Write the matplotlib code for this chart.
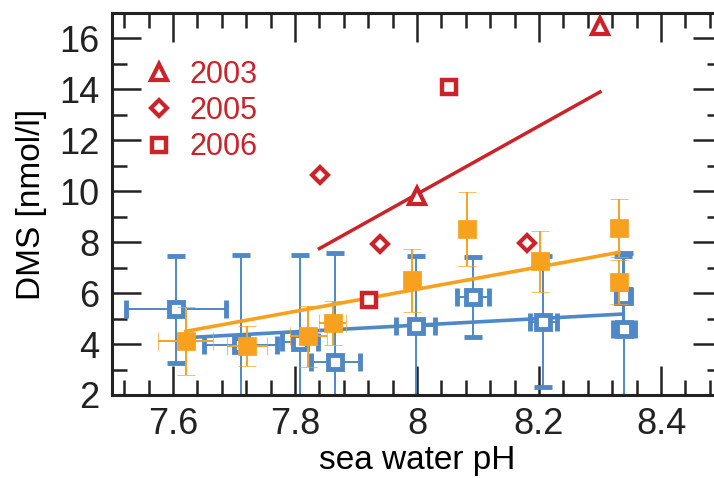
import numpy as np
import matplotlib
matplotlib.use('Agg')
import matplotlib.pyplot as plt
from matplotlib.ticker import MultipleLocator, FormatStrFormatter

plt.rcParams['font.family'] = ['Liberation Sans', 'DejaVu Sans']

RED = '#cc2229'
BLUE = '#4f88c6'
ORANGE = '#f7a11f'

# red campaigns (single values)
ph_2003 = [8.00, 8.30]
dms_2003 = [9.8, 16.5]
ph_2005 = [7.841, 7.94, 8.18]
dms_2005 = [10.63, 7.92, 7.95]
ph_2006 = [7.921, 8.052]
dms_2006 = [5.73, 14.1]
red_fit_ph = [7.84, 8.30]
red_fit_dms = [7.75, 13.9]

# blue open squares with error bars
blue_ph = [7.605, 7.711, 7.808, 7.866, 7.998, 8.092, 8.207, 8.338, 8.339]
blue_dms = [5.37, 3.95, 4.08, 3.29, 4.72, 5.84, 4.87, 5.9, 4.59]
blue_ph_err = [0.082, 0.06, 0.03, 0.04, 0.032, 0.026, 0.022, 0.012, 0.018]
blue_dms_err = [2.1, 3.55, 3.42, 4.28, 2.75, 1.56, 2.57, 1.55, 3.0]
blue_fit_ph = [7.62, 8.338]
blue_fit_dms = [4.25, 5.18]

# orange filled squares with error bars
orange_ph = [7.621, 7.721, 7.822, 7.862, 7.992, 8.082, 8.202, 8.331, 8.331]
orange_dms = [4.12, 3.92, 4.31, 4.82, 6.5, 8.52, 7.25, 8.55, 6.43]
orange_ph_err = [0.045, 0.033, 0.03, 0.022, 0.01, 0.01, 0.01, 0.0, 0.0]
orange_dms_err = [1.32, 0.8, 1.2, 0.87, 1.23, 1.45, 1.2, 1.15, 0.87]
orange_fit_ph = [7.621, 8.331]
orange_fit_dms = [4.5, 7.6]

fig = plt.figure(figsize=(7.14, 4.78), dpi=100)
ax = fig.add_axes([112 / 714, 83 / 478, 610 / 714, 382 / 478])

ax.errorbar(blue_ph, blue_dms, xerr=blue_ph_err, yerr=blue_dms_err, fmt='s',
            ms=9.5, mew=3.5, mfc='white', mec=BLUE, ecolor=BLUE,
            elinewidth=1.4, capsize=6.5, capthick=1.2, zorder=2)
ax.plot(blue_fit_ph, blue_fit_dms, color=BLUE, lw=2.6, zorder=2)

ax.errorbar(orange_ph, orange_dms, xerr=orange_ph_err, yerr=orange_dms_err, fmt='s',
            ms=12.5, mew=0.5, mfc=ORANGE, mec=ORANGE, ecolor=ORANGE,
            elinewidth=1.4, capsize=6.5, capthick=1.2, zorder=3)
ax.plot(orange_fit_ph, orange_fit_dms, color=ORANGE, lw=2.6, zorder=3)

ax.plot(red_fit_ph, red_fit_dms, color=RED, lw=2.5, zorder=4)
ax.plot(ph_2003, dms_2003, '^', ms=12, mew=3, mfc='white', mec=RED, ls='none',
        label='2003', zorder=5)
ax.plot(ph_2005, dms_2005, 'D', ms=8.5, mew=3, mfc='white', mec=RED, ls='none',
        label='2005', zorder=5)
ax.plot(ph_2006, dms_2006, 's', ms=9.5, mew=3.2, mfc='white', mec=RED, ls='none',
        label='2006', zorder=5)

ax.set_xlim(7.5, 8.5)
ax.set_ylim(2, 17)
ax.xaxis.set_major_locator(MultipleLocator(0.2))
ax.xaxis.set_minor_locator(MultipleLocator(0.04))
ax.xaxis.set_major_formatter(FormatStrFormatter('%g'))
ax.yaxis.set_major_locator(MultipleLocator(2))
ax.yaxis.set_minor_locator(MultipleLocator(1))

ax.tick_params(which='both', direction='in', top=True, right=True, width=1.8, colors='#222222')
ax.tick_params(which='major', length=21, pad=9, labelsize=26)
ax.tick_params(which='minor', length=11)
for side in ax.spines.values():
    side.set_linewidth(2.2)
    side.set_color('#222222')

ax.set_xlabel('sea water pH', fontsize=24, labelpad=2)
ax.set_ylabel('DMS [nmol/l]', fontsize=24, labelpad=9)

ax.legend(loc='upper left', bbox_to_anchor=(0.032, 0.91), frameon=False, fontsize=22,
          labelcolor=RED, handlelength=1.0, handletextpad=0.5, labelspacing=0.21,
          borderaxespad=0, numpoints=1)

fig.savefig('out.png', dpi=100)
